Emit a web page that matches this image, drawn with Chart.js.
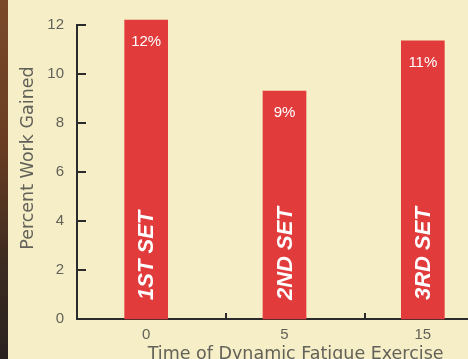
<!DOCTYPE html>
<html>
<head>
<meta charset="utf-8">
<script src="https://cdn.jsdelivr.net/npm/chart.js@4/dist/chart.umd.min.js"></script>
<style>
  html, body { margin: 0; padding: 0; width: 468px; height: 359px; overflow: hidden; background: #f5eec6; }
  #wrap { position: relative; width: 468px; height: 359px; overflow: hidden; }
  #strip { position: absolute; left: 0; top: 0; width: 8px; height: 359px;
    background: linear-gradient(to bottom, #7a4a2a 0%, #6a3d22 40%, #3b2a20 75%, #2a2220 100%); }
  #c { position: absolute; left: 0; top: 0; }
</style>
</head>
<body>
<div id="wrap">
  <canvas id="c" width="492" height="370" style="width:492px;height:370px"></canvas>
  <div id="strip"></div>
</div>
<script>
const categories = ['0', '5', '15'];
const workGained = [12.2, 9.3, 11.35];
const valueLabels = ['12%', '9%', '11%'];
const setLabels = ['1ST SET', '2ND SET', '3RD SET'];
const yMin = 0, yMax = 12, yStep = 2;
const xTitle = '    Time of Dynamic Fatigue Exercise';
const yTitle = '     Percent Work Gained';

const AXIS = '#2b2b2b';
const TEXT = '#62625a';
const RED = '#e13b3b';

const innerTicks = {
  id: 'innerTicks',
  afterDraw(chart) {
    const ctx = chart.ctx;
    const ys = chart.scales.y, xs = chart.scales.x;
    const area = chart.chartArea;
    ctx.save();
    ctx.strokeStyle = AXIS;
    ctx.lineWidth = 2;
    ys.ticks.forEach(t => {
      const py = Math.round(ys.getPixelForValue(t.value));
      ctx.beginPath();
      ctx.moveTo(area.left, py);
      ctx.lineTo(area.left + 9, py);
      ctx.stroke();
    });
    const step = xs.getPixelForValue(1) - xs.getPixelForValue(0);
    for (let i = 0; i < categories.length - 1; i++) {
      const px = Math.round(xs.getPixelForValue(i) + step * 0.58);
      ctx.beginPath();
      ctx.moveTo(px, area.bottom);
      ctx.lineTo(px, area.bottom - 6);
      ctx.stroke();
    }
    ctx.restore();
  }
};

const barText = {
  id: 'barText',
  afterDatasetsDraw(chart) {
    const ctx = chart.ctx;
    const meta = chart.getDatasetMeta(0);
    ctx.save();
    ctx.fillStyle = '#ffffff';
    meta.data.forEach((bar, i) => {
      ctx.font = '15px "Liberation Sans", Arial, sans-serif';
      ctx.textAlign = 'center';
      ctx.textBaseline = 'middle';
      ctx.fillText(valueLabels[i], bar.x, bar.y + 22);
      ctx.save();
      ctx.translate(bar.x + 1, bar.base - 19);
      ctx.rotate(-Math.PI / 2);
      ctx.font = 'italic bold 22px "Liberation Sans", Arial, sans-serif';
      ctx.textAlign = 'left';
      ctx.textBaseline = 'middle';
      ctx.fillText(setLabels[i], 0, 0);
      ctx.restore();
    });
    ctx.restore();
  }
};

new Chart(document.getElementById('c'), {
  type: 'bar',
  data: {
    labels: categories,
    datasets: [{
      data: workGained,
      backgroundColor: RED,
      borderWidth: 0,
      barThickness: 43,
      clip: false
    }]
  },
  options: {
    responsive: false,
    animation: false,
    devicePixelRatio: 1,
    layout: { padding: { top: 25, left: 0, right: 0, bottom: 0 } },
    plugins: { legend: { display: false }, tooltip: { enabled: false } },
    scales: {
      x: {
        type: 'category',
        offset: true,
        grid: { display: false, drawTicks: false },
        border: { display: true, color: AXIS, width: 2 },
        ticks: { color: TEXT, padding: 7, font: { family: '"Liberation Sans", Arial, sans-serif', size: 15 } },
        title: { display: true, text: xTitle, color: TEXT, padding: { top: 0, bottom: 5 },
                 font: { family: '"DejaVu Sans", sans-serif', size: 17.5 } },
        afterFit(scale) { scale.height = 51; }
      },
      y: {
        min: yMin, max: yMax,
        grid: { display: false, drawTicks: false },
        border: { display: true, color: AXIS, width: 2 },
        ticks: { stepSize: yStep, color: TEXT, padding: 13,
                 font: { family: '"Liberation Sans", Arial, sans-serif', size: 15 } },
        title: { display: true, text: yTitle, color: TEXT, padding: { top: 18, bottom: 0 },
                 font: { family: '"DejaVu Sans", sans-serif', size: 17.5 } },
        afterFit(scale) { scale.width = 77; }
      }
    }
  },
  plugins: [innerTicks, barText]
});
</script>
</body>
</html>
